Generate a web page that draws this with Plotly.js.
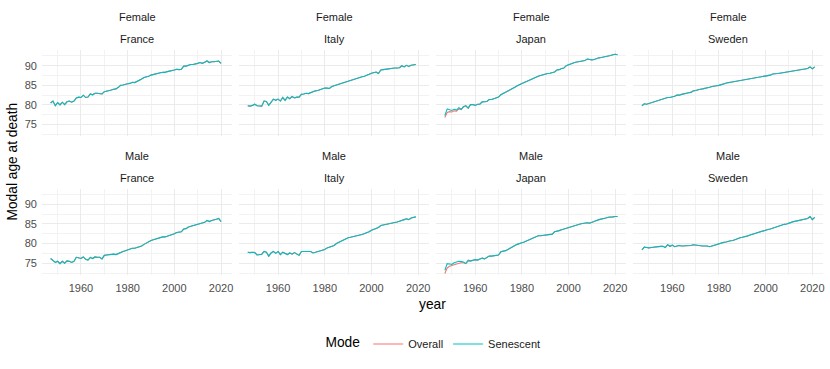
<!DOCTYPE html>
<html>
<head>
<meta charset="utf-8">
<script src="https://cdn.plot.ly/plotly-3.0.1.min.js"></script>
<style>
  body { margin: 0; background: #fff; }
  #chart { width: 830px; height: 369px; }
</style>
</head>
<body>
<div id="chart"></div>
<script>
// yearly modal age at death, first value is 1947
var firstYear = 1947;
var countries = ["France", "Italy", "Japan", "Sweden"];
var sexes = ["Female", "Male"];
var modes = ["Overall", "Senescent"];

var femaleFrance = [80.5, 81.0, 79.8, 80.6, 80.0, 80.7, 80.1, 80.8, 81.0, 80.7,
  81.0, 81.8, 82.0, 81.9, 82.5, 81.9, 82.0, 82.8, 82.6, 83.0,
  83.0, 82.9, 82.8, 83.4, 83.5, 83.6, 83.8, 84.0, 84.1, 84.5,
  85.0, 85.1, 85.3, 85.4, 85.5, 85.8, 85.7, 86.0, 86.1, 86.6,
  87.0, 87.1, 87.3, 87.6, 87.8, 88.0, 88.0, 88.2, 88.3, 88.3,
  88.5, 88.6, 88.8, 88.9, 89.1, 89.0, 89.1, 89.9, 89.9, 90.2,
  90.3, 90.3, 90.4, 90.6, 90.8, 90.6, 90.9, 91.2, 90.8, 91.0,
  91.0, 91.1, 91.2, 90.6];

var maleFrance = [76.2, 75.8, 75.2, 75.5, 74.9, 75.5, 75.0, 75.6, 75.5, 75.2,
  75.5, 76.5, 76.3, 76.2, 76.6, 76.0, 75.8, 76.5, 76.2, 76.6,
  76.5, 76.5, 76.1, 77.0, 77.1, 77.2, 77.2, 77.3, 77.2, 77.5,
  77.9, 78.0, 78.2, 78.4, 78.5, 78.8, 78.8, 79.0, 79.1, 79.4,
  79.8, 80.2, 80.5, 80.8, 81.0, 81.2, 81.3, 81.6, 81.7, 81.7,
  81.9, 82.0, 82.3, 82.5, 82.8, 83.0, 83.0, 83.7, 83.8, 84.2,
  84.4, 84.5, 84.7, 84.9, 85.2, 85.2, 85.4, 85.9, 85.6, 85.9,
  86.0, 86.2, 86.4, 85.6];

var femaleItaly = [79.8, 79.7, 79.9, 80.2, 79.8, 79.7, 79.7, 81.0, 80.9, 79.9,
  80.7, 81.5, 81.2, 81.5, 81.0, 81.9, 81.2, 82.0, 81.6, 82.2,
  81.8, 82.0, 82.0, 82.7, 82.8, 83.0, 82.9, 83.2, 83.4, 83.6,
  83.7, 83.9, 84.0, 84.3, 84.3, 84.2, 84.7, 84.9, 85.2, 85.4,
  85.6, 85.8, 86.0, 86.2, 86.4, 86.5, 86.7, 86.8, 87.0, 87.2,
  87.3, 87.5, 87.8, 88.1, 88.3, 88.4, 88.0, 88.9, 89.0, 89.1,
  89.1, 89.2, 89.3, 89.4, 89.4, 89.5, 90.0, 89.7, 90.1, 89.8,
  90.1, 90.2, 90.3];

var maleItaly = [77.8, 77.7, 77.8, 77.7, 77.1, 77.2, 77.3, 78.0, 77.8, 76.8,
  77.6, 78.0, 77.5, 78.0, 77.2, 77.8, 77.4, 77.2, 77.6, 77.3,
  77.7, 77.3, 77.0, 78.0, 78.0, 77.9, 77.9, 78.0, 77.6, 77.8,
  78.0, 78.1, 78.3, 78.5, 78.9, 79.1, 79.3, 79.5, 80.0, 80.3,
  80.8, 81.1, 81.4, 81.5, 81.6, 81.8, 82.0, 82.0, 82.2, 82.3,
  82.5, 82.7, 83.0, 83.4, 83.6, 83.7, 84.1, 84.6, 84.8, 85.0,
  85.0, 85.1, 85.2, 85.4, 85.5, 85.7, 86.0, 86.1, 86.3, 86.1,
  86.5, 86.6, 86.8];

var femaleJapan = [77.3, 79.0, 78.8, 78.6, 78.9, 78.7, 79.3, 78.9, 79.6, 79.8,
  79.2, 80.1, 80.1, 79.9, 80.2, 80.2, 80.8, 80.9, 80.9, 81.4,
  81.4, 81.6, 81.8, 82.0, 82.6, 82.9, 83.1, 83.5, 83.8, 84.2,
  84.5, 84.9, 85.1, 85.3, 85.7, 86.0, 86.3, 86.6, 86.8, 87.0,
  87.3, 87.5, 87.7, 87.8, 88.0, 88.1, 88.3, 88.4, 88.9, 89.0,
  89.3, 89.4, 90.0, 90.3, 90.5, 90.7, 90.9, 91.0, 91.1, 91.2,
  91.3, 91.7, 91.6, 91.5, 91.6, 91.9, 92.0, 92.1, 92.2, 92.3,
  92.5, 92.6, 92.8, 92.9, 92.8];

var femaleJapanOverall = [76.8, 78.1, 78.3, 78.2, 78.5, 78.4, 79.0, 78.8, 79.5, 79.8,
  79.2, 80.1, 80.1, 79.9, 80.2, 80.2, 80.8, 80.9, 80.9, 81.4,
  81.4, 81.6, 81.8, 82.0, 82.6, 82.9, 83.1, 83.5, 83.8, 84.2,
  84.5, 84.9, 85.1, 85.3, 85.7, 86.0, 86.3, 86.6, 86.8, 87.0,
  87.3, 87.5, 87.7, 87.8, 88.0, 88.1, 88.3, 88.4, 88.9, 89.0,
  89.3, 89.4, 90.0, 90.3, 90.5, 90.7, 90.9, 91.0, 91.1, 91.2,
  91.3, 91.7, 91.6, 91.5, 91.6, 91.9, 92.0, 92.1, 92.2, 92.3,
  92.5, 92.6, 92.8, 92.9, 92.8];

var maleJapan = [73.2, 74.9, 74.8, 74.7, 75.1, 75.3, 75.5, 75.4, 75.3, 74.9,
  75.8, 75.6, 75.7, 75.9, 75.8, 76.0, 76.3, 76.1, 76.5, 76.8,
  76.8, 76.9, 76.9, 77.1, 77.9, 78.0, 78.2, 78.5, 78.9, 79.2,
  79.5, 79.8, 80.1, 80.2, 80.4, 80.7, 81.0, 81.3, 81.6, 81.8,
  82.0, 82.0, 82.1, 82.2, 82.3, 82.3, 82.4, 83.0, 83.1, 83.3,
  83.5, 83.7, 83.9, 84.2, 84.4, 84.5, 84.7, 84.8, 85.0, 85.1,
  85.3, 85.3, 85.2, 85.5, 85.7, 85.9, 86.1, 86.2, 86.3, 86.5,
  86.7, 86.7, 86.8, 86.9, 86.9];

var maleJapanOverall = [72.4, 73.8, 74.2, 74.5, 74.6, 74.8, 75.0, 75.1, 75.1, 74.9,
  75.6, 75.5, 75.7, 75.9, 75.8, 76.0, 76.3, 76.1, 76.5, 76.8,
  76.8, 76.9, 76.9, 77.1, 77.9, 78.0, 78.2, 78.5, 78.9, 79.2,
  79.5, 79.8, 80.1, 80.2, 80.4, 80.7, 81.0, 81.3, 81.6, 81.8,
  82.0, 82.0, 82.1, 82.2, 82.3, 82.3, 82.4, 83.0, 83.1, 83.3,
  83.5, 83.7, 83.9, 84.2, 84.4, 84.5, 84.7, 84.8, 85.0, 85.1,
  85.3, 85.3, 85.2, 85.5, 85.7, 85.9, 86.1, 86.2, 86.3, 86.5,
  86.7, 86.7, 86.8, 86.9, 86.9];

var femaleSweden = [79.8, 80.3, 80.2, 80.4, 80.5, 80.9, 80.9, 81.2, 81.3, 81.6,
  81.7, 81.9, 81.9, 82.0, 82.2, 82.5, 82.5, 82.7, 82.9, 83.1,
  83.1, 83.2, 83.6, 83.7, 83.9, 84.0, 84.1, 84.2, 84.4, 84.5,
  84.7, 84.9, 84.9, 85.0, 85.2, 85.5, 85.6, 85.7, 85.8, 85.9,
  86.0, 86.2, 86.3, 86.3, 86.4, 86.6, 86.7, 86.8, 86.9, 87.0,
  87.1, 87.2, 87.2, 87.3, 87.4, 87.6, 87.9, 87.9, 88.0, 88.1,
  88.2, 88.3, 88.4, 88.5, 88.6, 88.6, 88.7, 88.8, 88.9, 89.1,
  89.2, 89.3, 89.7, 89.2, 89.7];

var maleSweden = [78.4, 79.1, 79.0, 78.9, 79.0, 79.1, 79.2, 79.2, 79.3, 79.3,
  79.0, 79.7, 79.3, 79.6, 79.2, 79.4, 79.5, 79.4, 79.4, 79.4,
  79.4, 79.5, 79.7, 79.6, 79.5, 79.5, 79.4, 79.4, 79.4, 79.2,
  79.4, 79.5, 79.7, 79.9, 80.1, 80.3, 80.4, 80.6, 80.7, 80.8,
  81.1, 81.3, 81.5, 81.6, 81.7, 81.9, 82.1, 82.3, 82.5, 82.7,
  82.8, 83.0, 83.4, 83.5, 83.6, 83.7, 83.9, 84.1, 84.3, 84.6,
  84.7, 84.9, 85.0, 85.3, 85.4, 85.6, 85.7, 85.9, 86.0, 86.2,
  86.2, 86.4, 86.9, 86.1, 86.7];

// one entry per facet, row by row
var overallSeries = [femaleFrance, femaleItaly, femaleJapanOverall, femaleSweden,
                     maleFrance, maleItaly, maleJapanOverall, maleSweden];
var senescentSeries = [femaleFrance, femaleItaly, femaleJapan, femaleSweden,
                       maleFrance, maleItaly, maleJapan, maleSweden];

var colours = ["#F8766D", "#00BFC4"];
var W = 830, H = 369;
var font = "Liberation Sans, Arial, sans-serif";

// panel geometry in pixels
var colLeft = [42, 239.1, 436.2, 633.3], panelW = 190;
var rowTop = [50, 188.6], panelH = 86;

function yearsFor(vals) {
  var out = [];
  for (var i = 0; i < vals.length; i++) out.push(firstYear + i);
  return out;
}

var data = [];
var layout = {
  width: W, height: H,
  margin: {l: 0, r: 0, t: 0, b: 0},
  paper_bgcolor: "#fff",
  plot_bgcolor: "rgba(0,0,0,0)",
  font: {family: font, size: 11, color: "#4D4D4D"},
  showlegend: true,
  legend: {
    orientation: "h",
    x: 434.5 / W, xanchor: "center",
    y: 1 - 344 / H, yanchor: "middle",
    font: {size: 11, color: "#1A1A1A"},
    title: {text: "Mode", side: "left", font: {size: 13.75, color: "#000"}},
    itemwidth: 30
  },
  annotations: [],
  hovermode: false
};

for (var p = 0; p < 8; p++) {
  var row = Math.floor(p / 4), col = p % 4;
  var n = p === 0 ? "" : String(p + 1);
  var xa = "x" + n, ya = "y" + n;

  [overallSeries[p], senescentSeries[p]].forEach(function (vals, m) {
    data.push({
      x: yearsFor(vals), y: vals,
      xaxis: xa, yaxis: ya,
      type: "scatter", mode: "lines",
      name: modes[m], legendgroup: modes[m],
      showlegend: p === 0,
      line: {color: colours[m], width: 1.1}
    });
  });

  var x0 = colLeft[col] / W, x1 = (colLeft[col] + panelW) / W;
  var y1 = 1 - rowTop[row] / H, y0 = 1 - (rowTop[row] + panelH) / H;

  layout["xaxis" + n] = {
    domain: [x0, x1], anchor: ya,
    range: [1943.3, 2024.7],
    tick0: 1960, dtick: 20,
    showticklabels: row === 1,
    ticklabelstandoff: 5,
    showgrid: true, gridcolor: "#EBEBEB", gridwidth: 1,
    minor: {tick0: 1950, dtick: 20, showgrid: true, gridcolor: "#F2F2F2", gridwidth: 1},
    zeroline: false, showline: false, ticks: "",
    tickfont: {size: 11, color: "#4D4D4D"}
  };
  layout["yaxis" + n] = {
    domain: [y0, y1], anchor: xa,
    range: [72.1, 94.0],
    tick0: 75, dtick: 5,
    showticklabels: col === 0,
    ticklabelstandoff: 4,
    showgrid: true, gridcolor: "#EBEBEB", gridwidth: 1,
    minor: {tick0: 72.5, dtick: 5, showgrid: true, gridcolor: "#F2F2F2", gridwidth: 1},
    zeroline: false, showline: false, ticks: "",
    tickfont: {size: 11, color: "#4D4D4D"}
  };

  // facet strips: sex on top, country below
  var cx = (colLeft[col] + panelW / 2) / W;
  layout.annotations.push({
    xref: "paper", yref: "paper", x: cx, y: 1 - (rowTop[row] - 32.7) / H,
    text: sexes[row], showarrow: false, xanchor: "center", yanchor: "middle",
    font: {size: 11, color: "#1A1A1A"}
  });
  layout.annotations.push({
    xref: "paper", yref: "paper", x: cx, y: 1 - (rowTop[row] - 10.7) / H,
    text: countries[col], showarrow: false, xanchor: "center", yanchor: "middle",
    font: {size: 11, color: "#1A1A1A"}
  });
}

// shared axis titles
layout.annotations.push({
  xref: "paper", yref: "paper", x: 432.5 / W, y: 1 - 304 / H,
  text: "year", showarrow: false, xanchor: "center", yanchor: "middle",
  font: {size: 13.75, color: "#000"}
});
layout.annotations.push({
  xref: "paper", yref: "paper", x: 12.5 / W, y: 1 - 162 / H,
  text: "Modal age at death", showarrow: false, textangle: -90,
  xanchor: "center", yanchor: "middle",
  font: {size: 13.75, color: "#000"}
});

Plotly.newPlot("chart", data, layout, {staticPlot: true, displayModeBar: false});
</script>
</body>
</html>
